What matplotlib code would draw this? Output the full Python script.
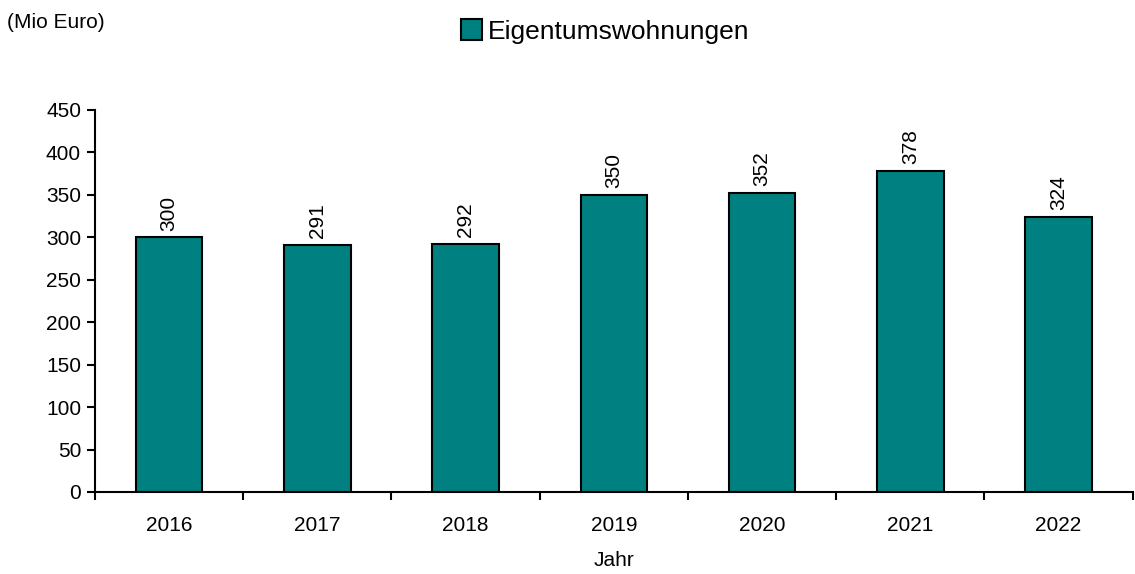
import matplotlib.pyplot as plt
import numpy as np

plt.rcParams['font.family'] = ['Liberation Sans', 'DejaVu Sans']

years = ['2016', '2017', '2018', '2019', '2020', '2021', '2022']
values = [300, 291, 292, 350, 352, 378, 324]
series_name = 'Eigentumswohnungen'
bar_color = '#008080'

fig = plt.figure(figsize=(11.35, 5.74), dpi=100)
ax = fig.add_axes([0.0837, 0.1429, 0.9143, 0.6655])

x = np.arange(len(years))
bars = ax.bar(x, values, width=0.45, color=bar_color, edgecolor='black',
              linewidth=1.5, label=series_name, zorder=2)

for xi, v in zip(x, values):
    ax.text(xi, v + 8, str(v), rotation=90, ha='center', va='bottom', fontsize=15)

ax.set_xlim(-0.5, len(years) - 0.5)
ax.set_ylim(0, 450)
ax.set_yticks(range(0, 451, 50))
ax.set_xticks(x)
ax.set_xticklabels(years)
ax.set_xticks(np.arange(-0.5, len(years), 1), minor=True)
ax.tick_params(axis='x', which='major', length=0, pad=17, labelsize=15)
ax.tick_params(axis='x', which='minor', length=6, width=1.5, direction='out')
ax.tick_params(axis='y', length=6, width=1.5, direction='out', labelsize=15, pad=4)

for side in ['top', 'right']:
    ax.spines[side].set_visible(False)
for side in ['left', 'bottom']:
    ax.spines[side].set_linewidth(1.5)

ax.set_xlabel('Jahr', fontsize=15, labelpad=12)
fig.text(0.006, 0.96, '(Mio Euro)', fontsize=15, ha='left', va='center')

fig.legend(handles=[bars], loc='center', bbox_to_anchor=(0.533, 0.945),
           frameon=False, fontsize=19, handlelength=0.8, handleheight=0.8,
           handletextpad=0.2)

fig.savefig('out.png', dpi=100)
